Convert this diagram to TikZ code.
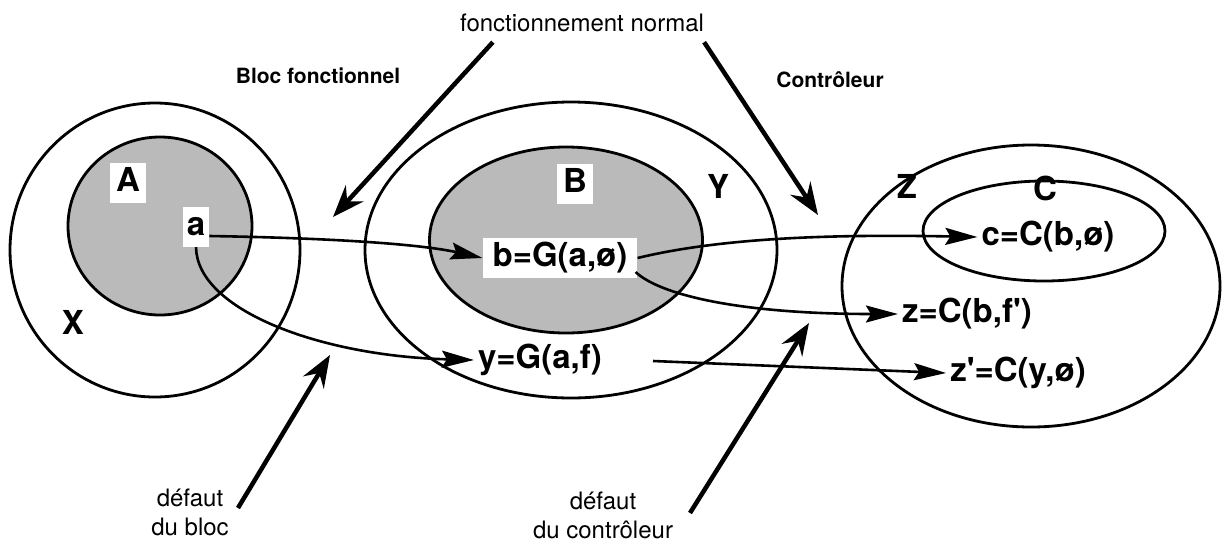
\documentclass[tikz,border=0pt]{standalone}
\usepackage{fontspec}
\setmainfont{TeX Gyre Heros}
\usetikzlibrary{arrows.meta,shapes.geometric,calc}
\tikzset{
  region/.style={ellipse,draw=black,line width=2.8pt,inner sep=0pt},
  coreset/.style={region,fill=black!27},
  setname/.style={font=\fontsize{33}{38}\selectfont\bfseries,inner sep=2pt},
  elem/.style={setname,fill=white,text height=24pt,text depth=8pt,inner sep=4pt},
  heading/.style={font=\fontsize{21}{25}\selectfont\bfseries,inner sep=2pt},
  remark/.style={font=\fontsize{24}{29}\selectfont,align=center,inner sep=2pt},
  flow/.style={-{Stealth[length=32pt,width=17pt,inset=5pt]},line width=2.6pt},
  pointer/.style={-{Stealth[length=32pt,width=24pt,inset=11pt]},line width=4.5pt}
}
\begin{document}
\begin{tikzpicture}[x=1pt,y=-1pt]
\useasboundingbox (0,0) rectangle (1227,547);
% sets
\node[region,minimum width=290pt,minimum height=294pt] (X) at (155,250) {};
\node[coreset,minimum width=184pt,minimum height=178pt] (A) at (160,226) {};
\node[region,minimum width=412pt,minimum height=296pt] (Y) at (571,250) {};
\node[coreset,minimum width=273pt,minimum height=186pt] (B) at (566,240) {};
\node[region,minimum width=378pt,minimum height=282pt] (Z) at (1031,286) {};
\node[region,minimum width=242pt,minimum height=100pt] (C) at (1044,231) {};

% set names
\node[elem,inner xsep=6pt] (nameA) at (128,183) {A};
\node[setname] (nameX) at (73,322) {X};
\node[elem,inner xsep=6pt] (nameB) at (575,184) {B};
\node[setname] (nameY) at (718,186) {Y};
\node[setname] (nameZ) at (907,186) {Z};
\node[setname] (nameC) at (1045,188) {C};

% elements
\node[elem] (a) at (196,227) {a};
\node[elem,inner xsep=10pt] (bG) at (560,258) {b=G(a,ø)};
\node[elem,fill=none] (yG) at (540,360) {y=G(a,f)};
\node[elem,fill=none] (cC) at (1048,237) {c=C(b,ø)};
\node[elem,fill=none] (zC) at (967,314) {z=C(b,f\textquotesingle)};
\node[elem,fill=none] (zpC) at (1018,373) {z\textquotesingle=C(y,ø)};
\coordinate (yout) at (653,361);

\draw[flow] ($(a.east)+(0,9)$) .. controls (330,238) and (420,244) .. (bG.west);
\draw[flow] (a.south) .. controls (197,310) and (320,356) .. (yG.west);
\draw[flow] (bG.east) .. controls (720,238) and (830,234) .. (cC.west);
\draw[flow] ($(bG.east)+(-2,14)$) .. controls (660,295) and (740,314) .. (zC.west);
\draw[flow] (yout) -- (zpC.west);

% comments
\node[remark] (normal) at (582,23) {fonctionnement normal};
\node[heading] (bloc) at (318,76) {Bloc fonctionnel};
\node[heading] (ctrl) at (830,80) {Contrôleur};
\node[remark] (defbloc) at (190,512) {défaut\\du bloc};
\node[remark] (defctrl) at (603,515) {défaut\\du contrôleur};

\coordinate (tipbloc) at (333,217);
\coordinate (tipctrl) at (818,215);
\coordinate (tipfb) at (330,355);
\coordinate (tipfc) at (809,323);

\draw[pointer] ($(normal.south west)+(35,8)$) -- (tipbloc);
\draw[pointer] ($(normal.south east)+(-2,8)$) -- (tipctrl);
\draw[pointer] (238,508) -- (tipfb);
\draw[pointer] (690,513) -- (tipfc);
\end{tikzpicture}
\end{document}
